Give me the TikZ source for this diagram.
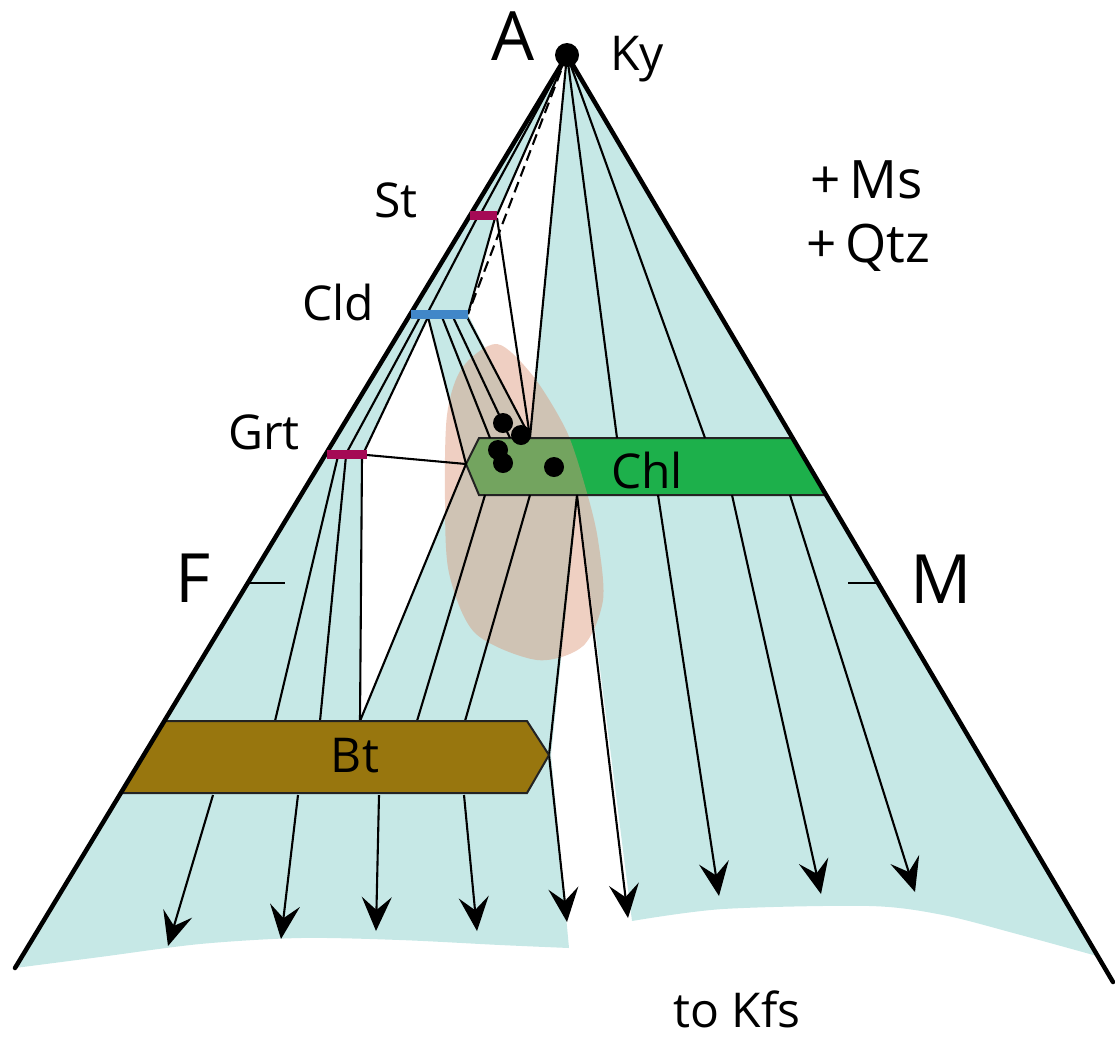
\documentclass[tikz,border=0pt]{standalone}
\usepackage{fontspec}
\setmainfont{Open Sans}
\usetikzlibrary{arrows.meta}
\definecolor{pale}{RGB}{198,232,230}
\definecolor{chlg}{RGB}{29,176,75}
\definecolor{btc}{RGB}{152,118,14}
\definecolor{blobc}{RGB}{220,150,120}
\definecolor{magbar}{RGB}{165,10,85}
\definecolor{cldbar}{RGB}{65,135,200}
\definecolor{edgec}{RGB}{35,35,35}
\tikzset{
  thin line/.style={line width=2.1pt, draw=black},
  thick edge/.style={line width=4.5pt, draw=black, line cap=round},
  arr/.style={thin line, -{Stealth[length=34pt,width=30pt,inset=13pt]}},
  dashline/.style={line width=2.1pt, dash pattern=on 11pt off 6pt},
  bar/.style={line width=9pt},
  big/.style={inner sep=0pt, anchor=base, font=\fontsize{68}{70}\selectfont},
  mid/.style={inner sep=0pt, anchor=base, font=\fontsize{48}{52}\selectfont},
  side/.style={inner sep=0pt, anchor=base west, font=\fontsize{53}{56}\selectfont},
  dot/.style={fill=black}
}
\begin{document}
\begin{tikzpicture}[x=1pt,y=-1pt]
\useasboundingbox (0,0) rectangle (1115,1037);
% key coordinates
\coordinate (ap) at (567,55);
\coordinate (Lbot) at (15,968);
\coordinate (Rbot) at (1113,982);
\coordinate (stA) at (470,215); \coordinate (stB) at (497,215);
\coordinate (stm) at (480,215);
\coordinate (clA) at (411,314); \coordinate (clB) at (468,314);
\coordinate (grA) at (327,454); \coordinate (grB) at (367,454);
\coordinate (chlL) at (466,464);
\coordinate (chlTL) at (479,438); \coordinate (chlTR) at (793,438);
\coordinate (chlBR) at (827,495); \coordinate (chlBL) at (479,495);
\coordinate (chlP) at (530,437);
\coordinate (btTL) at (165,721); \coordinate (btTR) at (527,721);
\coordinate (btTip) at (549,755);
\coordinate (btBR) at (527,793); \coordinate (btBL) at (121,793);
\coordinate (btV) at (360,721);

% pale two-phase fields
\fill[pale] (ap) -- (Lbot)
  -- plot[smooth] coordinates {(15,968) (100,957) (200,944) (300,938) (400,940) (500,945) (569,948)}
  -- (551,755) -- (578,495) -- (632,921)
  -- plot[smooth] coordinates {(632,921) (723,909) (870,906) (943,915) (1017,934) (1097,956)}
  -- cycle;
% three-phase (white) triangles
\fill[white] (ap) -- (stB) -- (clB) -- (chlP) -- cycle;
\fill[white] (428,317) -- (364,454) -- (362,457) -- (btV) -- (chlL) -- cycle;

% Chl band
\fill[chlg] (chlL) -- (chlTL) -- (chlTR) -- (chlBR) -- (chlBL) -- cycle;
% bulk composition blob
\fill[blobc, opacity=0.45] plot[smooth cycle] coordinates {(497,344) (462,368) (447,415) (445,500) (449,573) (475,633) (537,660) (583,646) (603,600) (598,540) (587,493) (567,432) (533,376)};
\draw[edgec, line width=2pt, line join=miter] (chlL) -- (chlTL) -- (chlTR) -- (chlBR) -- (chlBL) -- cycle;

% tie lines from Ky
\draw[thin line] (ap) -- (stm);
\draw[thin line] (ap) -- (stB);
\draw[dashline] (ap) -- (clB);
\draw[thin line] (ap) -- (chlP);
\draw[thin line] (ap) -- (617,438);
\draw[thin line] (ap) -- (705,438);
% from St
\draw[thin line] (477,218) -- (427,314);
\draw[thin line] (495,218) -- (clB);
\draw[thin line] (497,218) -- (chlP);
% from Cld
\draw[thin line] (420,317) -- (347,452);
\draw[thin line] (428,317) -- (364,452);
\draw[thin line] (428,317) -- (chlL);
\draw[thin line] (442,317) -- (490,438);
\draw[thin line] (453,317) -- (510,438);
\draw[thin line] (467,317) -- (chlP);
% from Grt
\draw[thin line] (338,456) -- (275,721);
\draw[thin line] (346,456) -- (320,721);
\draw[thin line] (362,456) -- (btV);
\draw[thin line] (367,455) -- (chlL);
% from Chl
\draw[thin line] (chlL) -- (btV);
\draw[thin line] (485,495) -- (417,721);
\draw[thin line] (530,495) -- (465,721);
\draw[thin line] (577,495) -- (btTip);
\coordinate (c1) at (577,495);
\coordinate (c2) at (658,495);
\coordinate (c3) at (732,495);
\coordinate (c4) at (790,495);
\coordinate (t1) at (628,918);
\coordinate (t2) at (719,896);
\coordinate (t3) at (821,894);
\coordinate (t4) at (915,892);
\draw[arr] (c1) -- (t1);
\draw[arr] (c2) -- (t2);
\draw[arr] (c3) -- (t3);
\draw[arr] (c4) -- (t4);
% from Bt to Kfs
\coordinate (b1) at (213,795); \coordinate (u1) at (168,946);
\coordinate (b2) at (298,795); \coordinate (u2) at (281,939);
\coordinate (b3) at (379,795); \coordinate (u3) at (376,931);
\coordinate (b4) at (464,795); \coordinate (u4) at (477,931);
\coordinate (u5) at (567,922);
\draw[arr] (b1) -- (u1);
\draw[arr] (b2) -- (u2);
\draw[arr] (b3) -- (u3);
\draw[arr] (b4) -- (u4);
\draw[arr] (btTip) -- (u5);

% Bt band
\fill[btc] (btTL) -- (btTR) -- (btTip) -- (btBR) -- (btBL) -- cycle;
\draw[edgec, line width=2pt, line join=miter] (btTL) -- (btTR) -- (btTip) -- (btBR) -- (btBL);

% triangle edges
\draw[thick edge] (Lbot) -- (ap) -- (Rbot);
\coordinate (fT) at (248,583); \coordinate (fT2) at (285,583);
\coordinate (mT) at (878,583); \coordinate (mT2) at (848,583);
\draw[thin line, line width=2.5pt] (fT) -- (fT2);
\draw[thin line, line width=2.5pt] (mT) -- (mT2);

% mineral composition bars
\draw[bar, magbar] (stA) -- (stB);
\draw[bar, cldbar] (clA) -- (clB);
\draw[bar, magbar] (grA) -- (grB);

% points
\fill[dot] (ap) circle (12);
\fill[dot] (503,423) circle (10);
\fill[dot] (521,435) circle (10);
\fill[dot] (498,450) circle (10);
\fill[dot] (503,463) circle (10);
\fill[dot] (554,467) circle (10);

% labels
\node[big] (lA) at (513,60) {A};
\node[big] (lF) at (193,602) {F};
\node[big] (lM) at (941,603) {M};
\node[mid, anchor=base west] (lKy) at (610,70) {Ky};
\node[mid] (lSt) at (396,217) {St};
\node[mid] (lCld) at (338,320) {Cld};
\node[mid] (lGrt) at (264,449) {Grt};
\node[mid] (lChl) at (647,488) {Chl};
\node[mid] (lBt) at (355,772) {Bt};
\node[side] (lMs) at (810,198) {+\,Ms};
\node[side] (lQtz) at (806,262) {+\,Qtz};
\node[mid] (lKfs) at (737,1027) {to Kfs};
\end{tikzpicture}
\end{document}
